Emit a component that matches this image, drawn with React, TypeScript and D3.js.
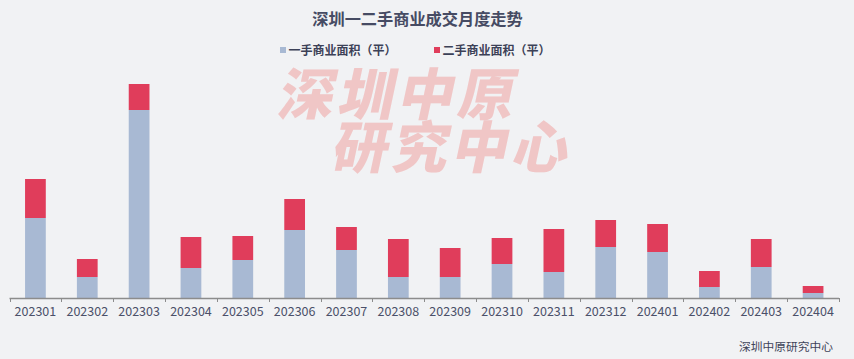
import React, { useRef, useEffect } from 'react';
import * as d3 from 'd3';

const months = [
  '202301', '202302', '202303', '202304', '202305', '202306', '202307', '202308',
  '202309', '202310', '202311', '202312', '202401', '202402', '202403', '202404',
];
// 一手商业面积（平）
const firstHand = [80000, 21000, 188000, 30000, 38000, 68000, 48000, 21000, 21000, 34000, 26000, 51000, 46000, 11000, 31000, 5000];
// 二手商业面积（平）
const secondHand = [39000, 18000, 26000, 31000, 24000, 31000, 23000, 38000, 29000, 26000, 43000, 27000, 28000, 16000, 28000, 7000];

const seriesNames = ['一手商业面积（平）', '二手商业面积（平）'];
const seriesColors = ['#a8b9d3', '#e03d5b'];

const width = 854;
const height = 359;
const cjk = '"Noto Sans CJK SC", "Noto Sans", sans-serif';

const App = () => {
  const svgRef = useRef<SVGSVGElement | null>(null);

  useEffect(() => {
    const svg = d3.select(svgRef.current);
    svg.selectAll('*').remove();

    svg.append('rect').attr('width', width).attr('height', height).attr('fill', '#f1f2f4');

    const x = d3.scaleBand<string>().domain(months).range([9.5, 839]).paddingInner(0).paddingOuter(0);
    const y = d3.scaleLinear().domain([0, 250000]).range([298, 48]);
    const barW = x.bandwidth() * 0.4;

    // 水印
    const wm = svg.append('g').attr('fill', '#f0c6c6').attr('font-family', cjk)
      .attr('font-weight', 900).attr('font-size', 56);
    wm.append('text').attr('transform', 'translate(276,115) skewX(-12)').attr('textLength', 236)
      .text('深圳中原');
    wm.append('text').attr('transform', 'translate(330,168) skewX(-12)').attr('textLength', 236)
      .text('研究中心');

    // 标题
    svg.append('text')
      .attr('x', 417.5).attr('y', 25)
      .attr('text-anchor', 'middle')
      .attr('font-family', cjk).attr('font-size', 16.2).attr('font-weight', 700)
      .attr('fill', '#464b63')
      .text('深圳一二手商业成交月度走势');

    // 图例
    const legendX = [280, 434];
    seriesNames.forEach((name, i) => {
      svg.append('rect').attr('x', legendX[i]).attr('y', 47).attr('width', 6).attr('height', 6)
        .attr('fill', seriesColors[i]);
      svg.append('text').attr('x', legendX[i] + 8.5).attr('y', 55)
        .attr('font-family', cjk).attr('font-size', 12).attr('font-weight', 700)
        .attr('fill', '#3c4157').text(name);
    });

    // 柱子
    const rows = months.map((m, i) => ({ month: m, a: firstHand[i], b: secondHand[i] }));
    const stacked = d3.stack<any>().keys(['a', 'b'])(rows);
    stacked.forEach((layer, si) => {
      svg.append('g').attr('fill', seriesColors[si])
        .selectAll('rect').data(layer).enter().append('rect')
        .attr('x', d => (x(d.data.month) as number) + (x.bandwidth() - barW) / 2)
        .attr('y', d => y(d[1]))
        .attr('width', barW)
        .attr('height', d => y(d[0]) - y(d[1]));
    });

    // x 轴
    const axis = svg.append('g');
    axis.append('line').attr('x1', 9.5).attr('x2', 839).attr('y1', 298.5).attr('y2', 298.5)
      .attr('stroke', '#8c8c8c').attr('stroke-width', 1.3);
    const ticks = months.map(m => x(m) as number).concat([839]);
    axis.selectAll('.tick').data(ticks).enter().append('line')
      .attr('x1', d => Math.round(d) + 0.5).attr('x2', d => Math.round(d) + 0.5)
      .attr('y1', 298).attr('y2', 302)
      .attr('stroke', '#8c8c8c');
    axis.selectAll('.lbl').data(months).enter().append('text')
      .attr('x', d => (x(d) as number) + x.bandwidth() / 2)
      .attr('y', 316)
      .attr('text-anchor', 'middle')
      .attr('font-family', cjk).attr('font-size', 12.5)
      .attr('fill', '#4b5069')
      .text(d => d);

    // 来源
    svg.append('text').attr('x', 833).attr('y', 350.5).attr('text-anchor', 'end')
      .attr('font-family', cjk).attr('font-size', 11.75).attr('fill', '#3f4459')
      .text('深圳中原研究中心');
  }, []);

  return (
    <svg ref={svgRef} width={width} height={height}
      style={{ position: 'fixed', left: 0, top: 0, display: 'block' }} />
  );
};

export default App;
